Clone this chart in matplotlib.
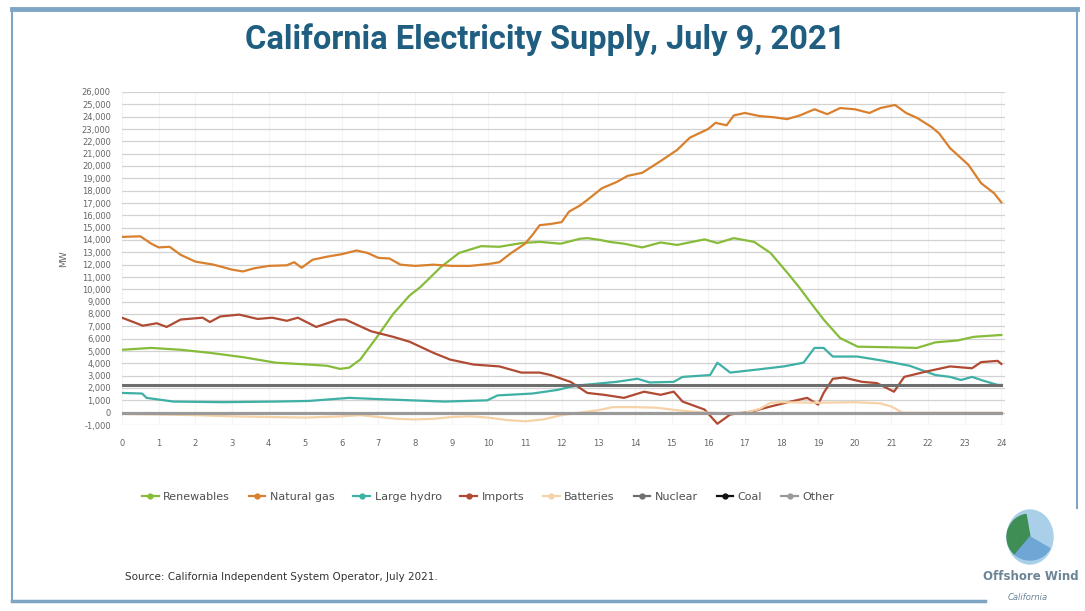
import numpy as np
import matplotlib
matplotlib.use("Agg")
import matplotlib.pyplot as plt
from matplotlib.patches import Ellipse, Wedge
from matplotlib.lines import Line2D

# ---- data (MW, hour of day) ----
gas_hours = [0, 0.5, 0.8, 1.0, 1.3, 1.6, 2.0, 2.5, 3.0, 3.3, 3.6, 4.0, 4.5, 4.7, 4.9,
             5.2, 5.6, 6.0, 6.4, 6.7, 7.0, 7.3, 7.6, 8.0, 8.5, 9.0, 9.5, 10.0, 10.3,
             10.6, 11.0, 11.2, 11.4, 11.7, 12.0, 12.2, 12.5, 12.7, 13.1, 13.5, 13.8,
             14.2, 14.7, 15.15, 15.5, 16.0, 16.2, 16.5, 16.7, 17.0, 17.4, 17.8, 18.15,
             18.5, 18.9, 19.25, 19.6, 20.0, 20.4, 20.7, 21.1, 21.4, 21.7, 22.1, 22.3,
             22.6, 23.1, 23.45, 23.8, 24.0]
gas_mw = [14250, 14300, 13700, 13400, 13450, 12800, 12250, 12000, 11600, 11450, 11700,
          11900, 11950, 12200, 11750, 12400, 12650, 12850, 13150, 12950, 12550, 12500,
          12000, 11900, 12000, 11900, 11900, 12050, 12200, 12900, 13700, 14400, 15200,
          15300, 15450, 16300, 16800, 17250, 18200, 18700, 19200, 19450, 20400, 21300,
          22300, 23000, 23500, 23300, 24100, 24300, 24050, 23950, 23800, 24100, 24600,
          24200, 24700, 24600, 24300, 24700, 24950, 24300, 23900, 23150, 22650, 21450,
          20100, 18600, 17800, 17050]

ren_hours = [0, 0.8, 1.6, 2.4, 3.3, 4.2, 5.1, 5.6, 5.95, 6.2, 6.5, 6.95, 7.4, 7.85, 8.15,
             8.7, 9.2, 9.8, 10.3, 10.9, 11.4, 11.97, 12.5, 12.7, 13.06, 13.3, 13.7, 14.2,
             14.7, 15.15, 15.9, 16.25, 16.7, 17.25, 17.7, 18.2, 18.5, 18.8, 19.15, 19.6,
             20.08, 21.0, 21.7, 22.2, 22.8, 23.25, 24.0]
ren_mw = [5100, 5250, 5100, 4850, 4500, 4050, 3900, 3800, 3550, 3650, 4300, 6100, 8000,
          9500, 10200, 11800, 12950, 13500, 13450, 13750, 13850, 13700, 14100, 14150,
          14000, 13850, 13700, 13400, 13800, 13600, 14050, 13750, 14150, 13850, 12950,
          11200, 10100, 8900, 7550, 6050, 5350, 5300, 5250, 5700, 5850, 6150, 6300]

hydro_hours = [0, 0.55, 0.67, 1.4, 2.76, 4.2, 5.1, 6.2, 7.0, 7.9, 8.8, 9.97, 10.25, 11.2,
               11.9, 12.24, 12.6, 13.5, 14.07, 14.4, 15.06, 15.3, 16.05, 16.25, 16.6,
               17.35, 18.06, 18.6, 18.9, 19.15, 19.4, 20.07, 20.8, 21.5, 22.2, 22.6,
               22.9, 23.2, 23.5, 23.9, 24.0]
hydro_mw = [1600, 1550, 1200, 900, 850, 900, 950, 1200, 1100, 1000, 900, 1000, 1400, 1550,
            1850, 2100, 2250, 2500, 2750, 2450, 2500, 2900, 3050, 4050, 3250, 3500, 3750,
            4050, 5250, 5250, 4550, 4550, 4200, 3800, 3050, 2900, 2650, 2900, 2600, 2250,
            2250]

imp_hours = [0, 0.57, 0.95, 1.22, 1.6, 2.2, 2.4, 2.68, 3.2, 3.7, 4.1, 4.5, 4.8, 5.3, 5.9,
             6.1, 6.8, 7.4, 7.85, 8.5, 8.96, 9.6, 10.3, 10.9, 11.4, 11.7, 12.24, 12.7,
             13.15, 13.7, 14.25, 14.7, 15.06, 15.3, 15.9, 16.25, 16.6, 17.2, 17.7, 18.25,
             18.7, 19.0, 19.15, 19.4, 19.7, 20.2, 20.6, 21.07, 21.35, 21.9, 22.6, 23.2,
             23.45, 23.9, 24.0]
imp_mw = [7700, 7050, 7250, 6950, 7550, 7700, 7350, 7800, 7950, 7600, 7700, 7450, 7700,
          6950, 7550, 7550, 6600, 6150, 5750, 4850, 4300, 3900, 3750, 3250, 3250, 3050,
          2500, 1600, 1450, 1200, 1700, 1450, 1700, 900, 250, -900, -150, 100, 500, 900,
          1200, 650, 1600, 2750, 2850, 2500, 2400, 1700, 2900, 3300, 3750, 3600, 4100,
          4200, 3950]

bat_hours = [0, 1, 2, 3, 4, 5, 6, 6.5, 7, 7.5, 8, 8.5, 9, 9.5, 10, 10.5, 11, 11.5, 12,
             12.5, 13, 13.4, 14, 14.6, 15, 15.5, 16, 16.5, 17, 17.4, 17.7, 18, 19, 20,
             20.7, 21, 21.3, 22, 23, 24]
bat_mw = [-100, -150, -200, -300, -350, -400, -300, -200, -350, -500, -550, -500, -350,
          -300, -400, -600, -700, -550, -200, 0, 200, 450, 450, 400, 250, 100, 0, -50, 0,
          300, 800, 850, 800, 850, 750, 500, 0, 0, 0, 0]

flat_hours = [0, 24]
nuclear_mw = [2260, 2260]
coal_mw = [0, 0]
other_mw = [0, 0]

x_ticks = list(range(0, 25))
y_ticks = list(range(-1000, 27000, 1000))

# ---- figure ----
W, H = 1085, 611
fig = plt.figure(figsize=(W / 100, H / 100), dpi=100)
fig.patch.set_facecolor("white")

ax = fig.add_axes([122 / W, 1 - 425 / H, 883 / W, 333 / H])
ax.set_xlim(0, 24.1)
ax.set_ylim(-1000, 26000)

lw = 1.6
series = [
    ("Renewables", ren_hours, ren_mw, "#86bc3a"),
    ("Natural gas", gas_hours, gas_mw, "#d9802e"),
    ("Large hydro", hydro_hours, hydro_mw, "#3fb0a5"),
    ("Imports", imp_hours, imp_mw, "#b04a32"),
    ("Batteries", bat_hours, bat_mw, "#f6d2a8"),
]
for name, hx, hy, col in series:
    ax.plot(hx, hy, color=col, lw=lw, zorder=3)
ax.plot(flat_hours, nuclear_mw, color="#6e6e6e", lw=2.2, zorder=4)
ax.plot(flat_hours, coal_mw, color="#111111", lw=2.2, zorder=4)
ax.plot(flat_hours, other_mw, color="#9a9a9a", lw=2.2, zorder=4)

ax.set_yticks(y_ticks)
ax.set_yticklabels([f"{v:,}" for v in y_ticks])
ax.set_xticks(x_ticks)
ax.tick_params(length=0, labelsize=6, colors="#666666")
ax.tick_params(axis="y", pad=8)
ax.tick_params(axis="x", pad=10)
ax.grid(axis="y", color="#d2d2d2", lw=0.9)
ax.grid(axis="x", color="#f4f4f4", lw=0.8)
ax.set_axisbelow(True)
for s in ax.spines.values():
    s.set_visible(False)
ax.set_ylabel("MW", fontsize=6.5, color="#666666", labelpad=10)

# legend
handles = [Line2D([], [], color=c, lw=lw, marker="o", markersize=3.5) for _, _, _, c in series]
handles += [Line2D([], [], color="#6e6e6e", lw=lw, marker="o", markersize=3.5),
            Line2D([], [], color="#111111", lw=lw, marker="o", markersize=3.5),
            Line2D([], [], color="#9a9a9a", lw=lw, marker="o", markersize=3.5)]
labels = [s[0] for s in series] + ["Nuclear", "Coal", "Other"]
fig.legend(handles, labels, loc="center", bbox_to_anchor=(488 / W, 1 - 497 / H), ncol=8,
           frameon=False, fontsize=8, handlelength=1.5, handletextpad=0.4,
           columnspacing=1.7, labelcolor="#505050")

# title and source
fig.text(545 / W, 1 - 40 / H, "California Electricity Supply, July 9, 2021",
         ha="center", va="center", fontsize=23.5, fontweight="bold", color="#1f5e80",
         family=["Roboto", "DejaVu Sans"])
fig.text(125 / W, 1 - 577 / H, "Source: California Independent System Operator, July 2021.",
         ha="left", va="center", fontsize=7.5, color="#333333")

# slide frame
frame = dict(color="#7fa5c4", transform=fig.transFigure, clip_on=False)
fig.add_artist(Line2D([12 / W, 1077 / W], [1 - 9 / H, 1 - 9 / H], lw=3.5, **frame))
fig.add_artist(Line2D([12 / W, 12 / W], [1 - 9 / H, 1 - 601 / H], lw=1.5, **frame))
fig.add_artist(Line2D([1077 / W, 1077 / W], [1 - 9 / H, 1 - 508 / H], lw=1.5, **frame))
fig.add_artist(Line2D([12 / W, 985 / W], [1 - 601 / H, 1 - 601 / H], lw=2.5, **frame))

# logo
lax = fig.add_axes([990 / W, 1 - 568 / H, 80 / W, 62 / H])
lax.set_xlim(0, 80)
lax.set_ylim(0, 62)
lax.axis("off")
lax.add_patch(Ellipse((40, 31), 46, 54, color="#a9d0e8"))
lax.add_patch(Wedge((40, 31), 23, 100, 230, color="#3f8e55"))
lax.add_patch(Wedge((40, 31), 23, 230, 330, color="#6ea6d6"))
fig.text(983 / W, 1 - 577 / H, "Offshore Wind", fontsize=8.5, fontweight="bold",
         color="#6b8596", ha="left", va="center")
fig.text(1028 / W, 1 - 597 / H, "California", fontsize=6, style="italic",
         color="#6b8596", ha="center", va="center")

fig.savefig("out.png", dpi=100)
